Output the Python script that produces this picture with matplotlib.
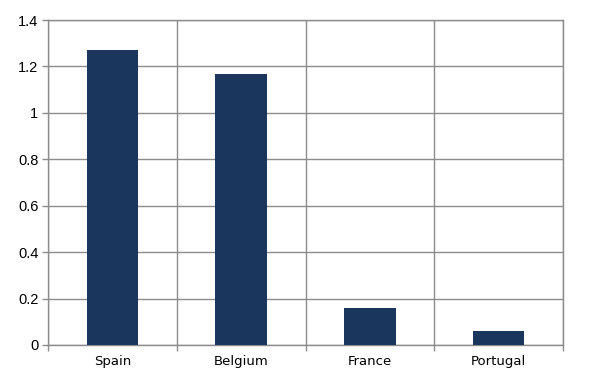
import numpy as np
import matplotlib.pyplot as plt

# values
countries = ["Spain", "Belgium", "France", "Portugal"]
values = [1.27, 1.168, 0.159, 0.06]
y_ticks = [0, 0.2, 0.4, 0.6, 0.8, 1, 1.2, 1.4]
y_tick_labels = ["0", "0.2", "0.4", "0.6", "0.8", "1", "1.2", "1.4"]

bar_color = "#1b365d"
grid_color = "#8c8c8c"

fig = plt.figure(figsize=(5.95, 3.9), dpi=100)
ax = fig.add_axes([48 / 595, 45 / 390, 515 / 595, 325 / 390])

x = np.arange(len(countries))
ax.bar(x, values, width=0.4, color=bar_color, zorder=3)

ax.set_xlim(-0.5, len(countries) - 0.5)
ax.set_ylim(0, 1.4)

# horizontal grid at each y tick, vertical grid at category boundaries
ax.set_yticks(y_ticks)
ax.set_yticklabels(y_tick_labels, family="Liberation Sans", fontsize=10.5)
ax.set_xticks(np.arange(len(countries) + 1) - 0.5)
ax.set_xticklabels([])
ax.set_xticks(x, minor=True)
ax.set_xticklabels(countries, minor=True, family="DejaVu Sans", fontsize=9.5)
ax.tick_params(axis="x", which="minor", length=0, pad=7)
ax.tick_params(axis="x", which="major", length=4, color=grid_color, width=1)
ax.tick_params(axis="y", length=4, color=grid_color, width=1, pad=3)
ax.grid(True, which="major", color=grid_color, linewidth=1, zorder=0)

for s in ax.spines.values():
    s.set_color(grid_color)
    s.set_linewidth(1)

fig.savefig("out.png", dpi=100)
